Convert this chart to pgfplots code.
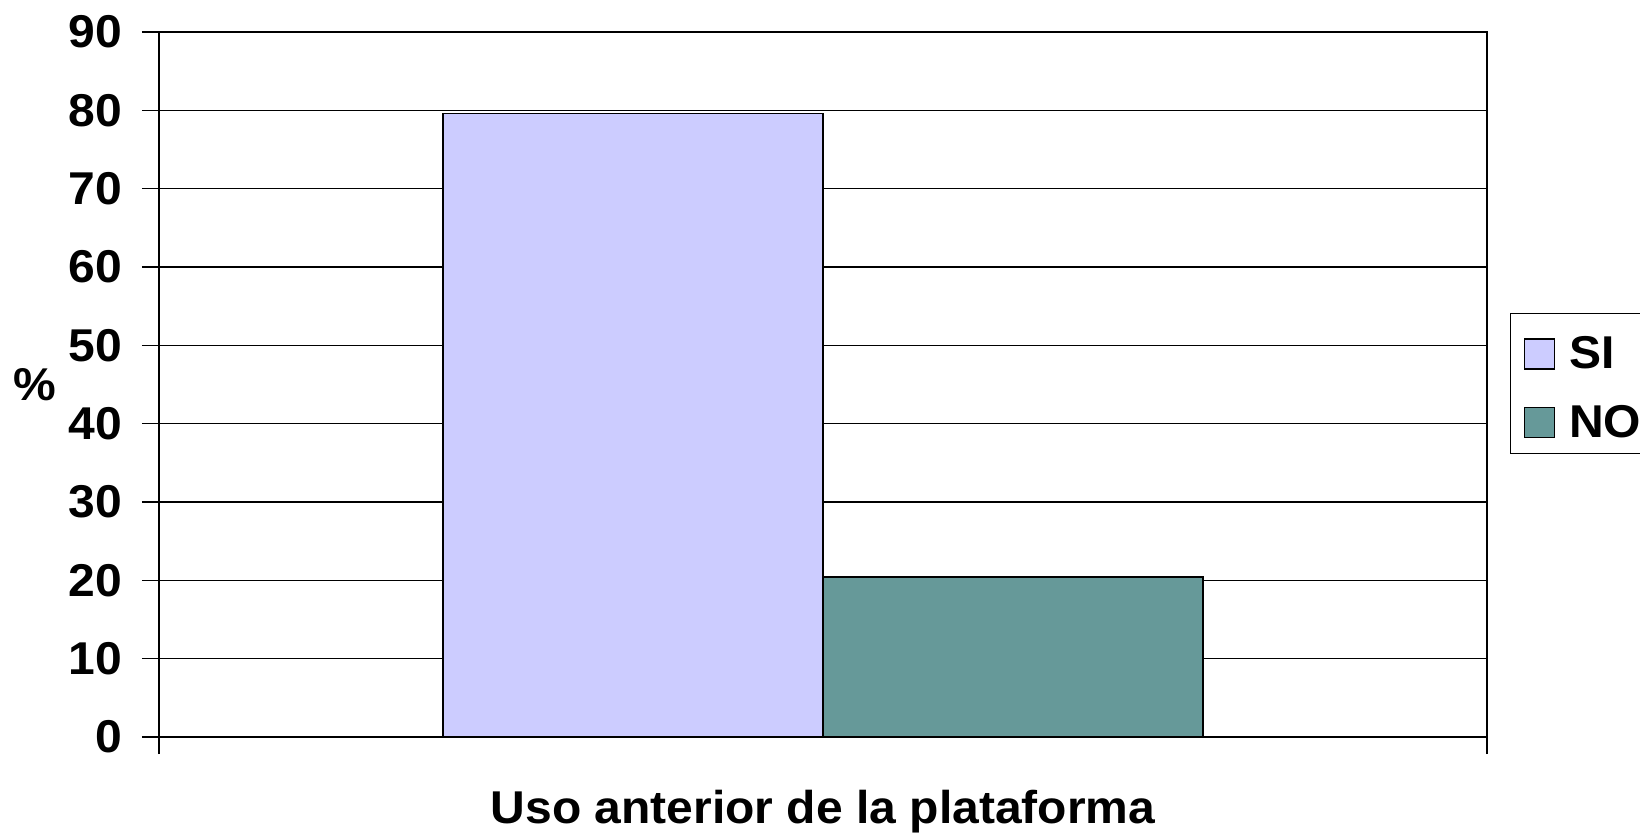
\documentclass[border=0pt]{standalone}
\usepackage{fontspec}
\setmainfont{Liberation Sans}[FakeStretch=1.044]
\usepackage{pgfplots}
\pgfplotsset{compat=1.18}
\definecolor{si}{HTML}{CCCCFF}
\definecolor{no}{HTML}{669999}
\newcommand{\bigbf}{\fontsize{23}{27}\selectfont\bfseries}
\begin{document}
\begin{tikzpicture}
\begin{axis}[
 at={(79.5pt,49.5pt)}, anchor=south west,
 scale only axis, width=664pt, height=352.5pt,
 xmin=-1.7474, xmax=1.7474, ymin=0, ymax=90,
 ytick={0,10,...,90},
 xtick={-1.7474,1.7474}, xticklabels={},
 tick pos=left, tick align=outside, major tick length=8.5pt,
 ymajorgrids, grid style={black, line width=0.7pt},
 axis line style={line width=0.7pt},
 every tick/.style={black, line width=0.7pt},
 /pgf/number format/assume math mode=true,
 ticklabel style={font=\bigbf},
 yticklabel style={xshift=-6.5pt},
 ybar, bar width=1,
 every axis x label/.style={at={(axis description cs:0.5,0)}, anchor=center, yshift=-37.5pt, font=\bigbf},
 every axis y label/.style={at={(axis description cs:0,0.5)}, anchor=center, xshift=-62pt, font=\bigbf},
 xlabel={Uso anterior de la plataforma},
 ylabel={\%},
 legend style={at={(1.0173,0.6014)}, anchor=north west, draw=black, line width=0.6pt,
   font=\bigbf, inner xsep=6.5pt, inner ysep=4.6pt, row sep=12.75pt, column sep=5pt,
   legend cell align=left},
]
\addplot[fill=si, draw=black, line width=0.75pt, bar shift=0pt,
  legend image code/.code={\path (0pt,15.15pt); \draw[fill=si, draw=black, line width=0.75pt] (0pt,-7.5pt) rectangle (15pt,7.5pt);}]
  coordinates {(-0.5,79.6)};
\addplot[fill=no, draw=black, line width=0.75pt, bar shift=0pt,
  legend image code/.code={\draw[fill=no, draw=black, line width=0.75pt] (0pt,-7.5pt) rectangle (15pt,7.5pt);}]
  coordinates {(0.5,20.4)};
\legend{SI,NO}
\end{axis}
\pgfresetboundingbox
\path[use as bounding box] (0,0) rectangle (820pt,418pt);
\end{tikzpicture}
\end{document}
